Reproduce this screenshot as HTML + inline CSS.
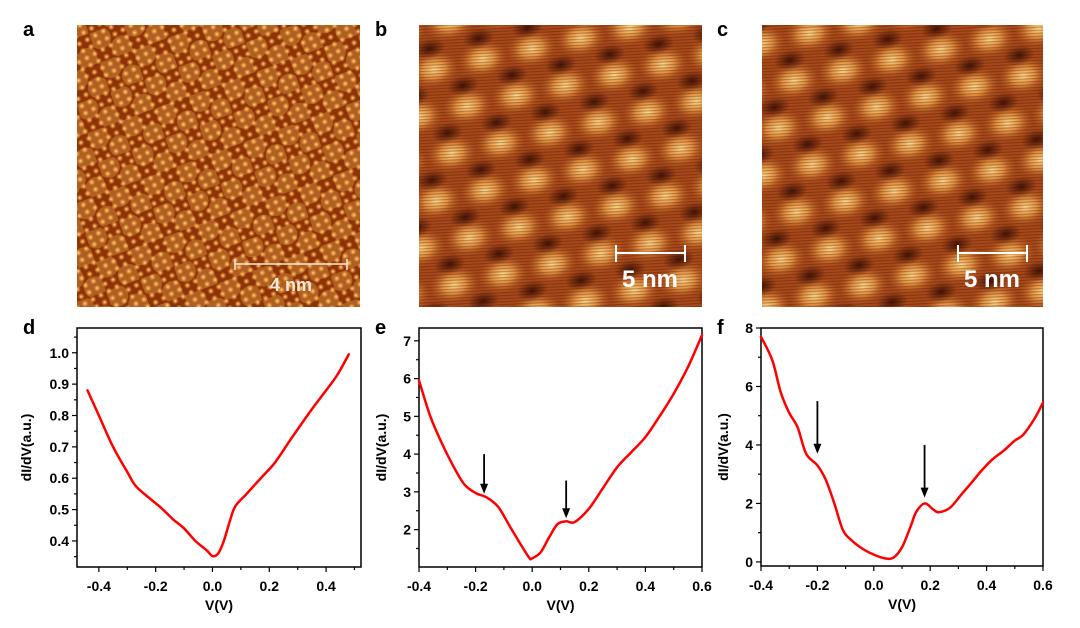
<!DOCTYPE html>
<html><head><meta charset="utf-8">
<style>
body{margin:0;background:#fff;width:1080px;height:623px;overflow:hidden;font-family:"Liberation Sans",Arial,sans-serif;}
svg text{font-family:"Liberation Sans",Arial,sans-serif;font-weight:bold;}
</style></head>
<body>
<svg id="fig" width="1080" height="623" viewBox="0 0 1080 623">
<defs>
  <radialGradient id="gdot"><stop offset="0" stop-color="#ffe39a"/><stop offset="0.5" stop-color="#e08a30" stop-opacity="0.8"/><stop offset="1" stop-color="#e08a30" stop-opacity="0"/></radialGradient>
  <radialGradient id="gdark"><stop offset="0" stop-color="#2a0500" stop-opacity="0.8"/><stop offset="1" stop-color="#2a0500" stop-opacity="0"/></radialGradient>
  <radialGradient id="gblob"><stop offset="0" stop-color="#ffd98a"/><stop offset="0.45" stop-color="#eea04a" stop-opacity="0.85"/><stop offset="1" stop-color="#b8561a" stop-opacity="0"/></radialGradient>
  <pattern id="patA" width="9" height="8" patternUnits="userSpaceOnUse" patternTransform="rotate(-28)">
    <rect width="9" height="8" fill="#8e3208"/>
    <circle cx="4.5" cy="4" r="3.4" fill="url(#gdot)"/>
  </pattern>
  <pattern id="patAm" width="36" height="31" patternUnits="userSpaceOnUse" patternTransform="rotate(-20)">
    <circle cx="9" cy="8" r="11" fill="#ffc860" opacity="0.3"/>
    <circle cx="27" cy="23.5" r="11" fill="#ffc860" opacity="0.3"/>
  </pattern>
  <pattern id="patB" width="100" height="86" patternUnits="userSpaceOnUse" patternTransform="rotate(-12) translate(10,8)">
    <rect width="100" height="86" fill="#a9491a"/>
    <ellipse cx="25" cy="21" rx="26" ry="19" fill="url(#gblob)"/>
    <ellipse cx="75" cy="21" rx="26" ry="19" fill="url(#gblob)"/>
    <ellipse cx="0" cy="64" rx="26" ry="19" fill="url(#gblob)"/>
    <ellipse cx="50" cy="64" rx="26" ry="19" fill="url(#gblob)"/>
    <ellipse cx="100" cy="64" rx="26" ry="19" fill="url(#gblob)"/>
    <ellipse cx="0" cy="43" rx="16" ry="10" fill="url(#gdark)"/>
    <ellipse cx="50" cy="43" rx="16" ry="10" fill="url(#gdark)"/>
    <ellipse cx="100" cy="43" rx="16" ry="10" fill="url(#gdark)"/>
    <ellipse cx="25" cy="86" rx="16" ry="10" fill="url(#gdark)"/>
    <ellipse cx="75" cy="86" rx="16" ry="10" fill="url(#gdark)"/>
    <ellipse cx="25" cy="0" rx="16" ry="10" fill="url(#gdark)"/>
    <ellipse cx="75" cy="0" rx="16" ry="10" fill="url(#gdark)"/>
  </pattern>
  <pattern id="stripes" width="4" height="3" patternUnits="userSpaceOnUse" patternTransform="rotate(-3)">
    <rect width="4" height="1.2" fill="#3a0e00" opacity="0.3"/>
  </pattern>
</defs>

<g>
  <rect x="77" y="25" width="283" height="282" fill="url(#patA)"/>
  <rect x="77" y="25" width="283" height="282" fill="url(#patAm)"/>
  <line x1="235" y1="264" x2="347" y2="264" stroke="#f3ead8" stroke-width="1.5"/>
  <line x1="235" y1="259" x2="235" y2="270" stroke="#f3ead8" stroke-width="1.5"/>
  <line x1="347" y1="259" x2="347" y2="270" stroke="#f3ead8" stroke-width="1.5"/>
  <text x="291" y="291" font-size="18" fill="#f3ead8" text-anchor="middle">4 nm</text>
</g>
<g>
  <rect x="419" y="25" width="283" height="282" fill="url(#patB)"/>
  <rect x="419" y="25" width="283" height="282" fill="url(#stripes)"/>
  <line x1="616" y1="253" x2="685" y2="253" stroke="#fff" stroke-width="2"/>
  <line x1="616" y1="245" x2="616" y2="262" stroke="#fff" stroke-width="2"/>
  <line x1="685" y1="245" x2="685" y2="262" stroke="#fff" stroke-width="2"/>
  <text x="650" y="287" font-size="24" fill="#fff" text-anchor="middle">5 nm</text>
</g>
<g>
  <rect x="762" y="25" width="281" height="282" fill="url(#patB)"/>
  <rect x="762" y="25" width="281" height="282" fill="url(#stripes)"/>
  <line x1="958" y1="253" x2="1027" y2="253" stroke="#fff" stroke-width="2"/>
  <line x1="958" y1="245" x2="958" y2="262" stroke="#fff" stroke-width="2"/>
  <line x1="1027" y1="245" x2="1027" y2="262" stroke="#fff" stroke-width="2"/>
  <text x="992" y="287" font-size="24" fill="#fff" text-anchor="middle">5 nm</text>
</g>

<text x="23" y="36" font-size="20">a</text>
<text x="375" y="36" font-size="20">b</text>
<text x="717" y="36" font-size="20">c</text>
<text x="23" y="334" font-size="20">d</text>
<text x="375" y="334" font-size="20">e</text>
<text x="717" y="334" font-size="20">f</text>
<g id="charts"></g>
</svg>
<script>
// Panel d data
const dX = [-0.44,-0.40,-0.35,-0.30,-0.27,-0.22,-0.18,-0.14,-0.10,-0.06,-0.02,0.0,0.02,0.04,0.06,0.08,0.12,0.17,0.22,0.28,0.35,0.40,0.44,0.48];
const dY = [0.88,0.80,0.70,0.62,0.575,0.535,0.505,0.47,0.44,0.40,0.37,0.352,0.36,0.40,0.46,0.51,0.55,0.60,0.65,0.73,0.82,0.88,0.93,0.995];
const dXTicks = [-0.4,-0.2,0.0,0.2,0.4];
const dXTickLabels = ["-0.4","-0.2","0.0","0.2","0.4"];
const dYTicks = [0.4,0.5,0.6,0.7,0.8,0.9,1.0];
const dYTickLabels = ["0.4","0.5","0.6","0.7","0.8","0.9","1.0"];
// Panel e data
const eX = [-0.4,-0.36,-0.32,-0.28,-0.24,-0.2,-0.16,-0.12,-0.08,-0.04,-0.01,0.0,0.03,0.06,0.09,0.12,0.15,0.2,0.25,0.3,0.35,0.4,0.45,0.5,0.55,0.6];
const eY = [5.95,5.0,4.3,3.7,3.2,2.97,2.85,2.6,2.1,1.6,1.25,1.24,1.4,1.8,2.15,2.22,2.2,2.55,3.1,3.65,4.05,4.45,5.0,5.6,6.3,7.15];
const eXTicks = [-0.4,-0.2,0.0,0.2,0.4,0.6];
const eXTickLabels = ["-0.4","-0.2","0.0","0.2","0.4","0.6"];
const eYTicks = [2,3,4,5,6,7];
const eYTickLabels = ["2","3","4","5","6","7"];
const eArrowX = [-0.17,0.12];
const eArrowTop = [4.0,3.3];
const eArrowTip = [2.95,2.3];
// Panel f data
const fX = [-0.4,-0.36,-0.33,-0.3,-0.27,-0.24,-0.2,-0.17,-0.14,-0.11,-0.08,-0.04,0.0,0.04,0.07,0.1,0.13,0.15,0.18,0.21,0.23,0.27,0.31,0.35,0.38,0.42,0.46,0.5,0.53,0.57,0.6];
const fY = [7.7,6.9,5.8,5.1,4.6,3.7,3.3,2.8,2.0,1.1,0.75,0.45,0.25,0.12,0.15,0.5,1.2,1.7,2.0,1.8,1.7,1.85,2.3,2.75,3.1,3.5,3.8,4.15,4.35,4.9,5.45];
const fXTicks = [-0.4,-0.2,0.0,0.2,0.4,0.6];
const fXTickLabels = ["-0.4","-0.2","0.0","0.2","0.4","0.6"];
const fYTicks = [0,2,4,6,8];
const fYTickLabels = ["0","2","4","6","8"];
const fArrowX = [-0.2,0.18];
const fArrowTop = [5.5,4.0];
const fArrowTip = [3.7,2.2];

const NS = "http://www.w3.org/2000/svg";
const root = document.getElementById('charts');
function mk(tag, attrs, parent){
  const el = document.createElementNS(NS, tag);
  for (const k in attrs) el.setAttribute(k, attrs[k]);
  (parent||root).appendChild(el);
  return el;
}
function panel(name, box, xr, yr, xs, ys, xt, xtl, yt, ytl, minorX, minorY, ylabX, arrows){
  const g = mk('g', {});
  
  
  const sx = v => box.x0 + (v - xr[0]) / (xr[1] - xr[0]) * (box.x1 - box.x0);
  const sy = v => box.y1 - (v - yr[0]) / (yr[1] - yr[0]) * (box.y1 - box.y0);
  const frame = mk('rect', {x:box.x0, y:box.y0, width:box.x1-box.x0, height:box.y1-box.y0, fill:'none', stroke:'#000', 'stroke-width':1.5}, g);
  
  
  minorX.forEach(v => mk('line', {x1:sx(v), x2:sx(v), y1:box.y1, y2:box.y1+3, stroke:'#000','stroke-width':1.2}, g));
  minorY.forEach(v => mk('line', {x1:box.x0-3, x2:box.x0, y1:sy(v), y2:sy(v), stroke:'#000','stroke-width':1.2}, g));
  xt.forEach((v,i) => {
    mk('line', {x1:sx(v), x2:sx(v), y1:box.y1, y2:box.y1+5, stroke:'#000','stroke-width':1.2}, g);
    const t = mk('text', {x:sx(v), y:box.y1+24, 'font-size':14, 'text-anchor':'middle'}, g);
    t.textContent = xtl[i];
    
    
  });
  yt.forEach((v,i) => {
    mk('line', {x1:box.x0-5, x2:box.x0, y1:sy(v), y2:sy(v), stroke:'#000','stroke-width':1.2}, g);
    const t = mk('text', {x:box.x0-8, y:sy(v)+5, 'font-size':14, 'text-anchor':'end'}, g);
    t.textContent = ytl[i];
    
    
  });
  const xl = mk('text', {x:(box.x0+box.x1)/2, y:box.y1+43, 'font-size':14, 'text-anchor':'middle'}, g);
  xl.textContent = 'V(V)';
  
  
  const yl = mk('text', {x:0, y:0, 'font-size':14, 'text-anchor':'middle', transform:`translate(${ylabX},${(box.y0+box.y1)/2}) rotate(-90)`}, g);
  yl.textContent = 'dI/dV(a.u.)';
  
  
  const pts = xs.map((v,i) => [sx(v), sy(ys[i])]);
  let d = `M${pts[0][0]},${pts[0][1]}`;
  for (let i=0;i<pts.length-1;i++){
    const p0 = pts[Math.max(0,i-1)], p1 = pts[i], p2 = pts[i+1], p3 = pts[Math.min(pts.length-1,i+2)];
    const c1 = [p1[0]+(p2[0]-p0[0])/6, p1[1]+(p2[1]-p0[1])/6];
    const c2 = [p2[0]-(p3[0]-p1[0])/6, p2[1]-(p3[1]-p1[1])/6];
    d += ` C${c1[0]},${c1[1]} ${c2[0]},${c2[1]} ${p2[0]},${p2[1]}`;
  }
  const line = mk('path', {d:d, fill:'none', stroke:'#f00', 'stroke-width':2.5, 'stroke-linejoin':'round','stroke-linecap':'round'}, g);
  
  
  if (arrows){
    arrows.x.forEach((v,i) => {
      const ax = sx(v), y0 = sy(arrows.top[i]), y1 = sy(arrows.tip[i]);
      const a = mk('g', {}, g);
      
      
      mk('line', {x1:ax, x2:ax, y1:y0, y2:y1-8, stroke:'#000', 'stroke-width':1.8}, a);
      mk('polygon', {points:`${ax-4},${y1-10} ${ax+4},${y1-10} ${ax},${y1}`, fill:'#000'}, a);
    });
  }
}
panel('dos-plot-d', {x0:77,x1:361,y0:328,y1:567}, [-0.477,0.523], [0.317,1.079], dX, dY,
  dXTicks, dXTickLabels, dYTicks, dYTickLabels, [-0.3,-0.1,0.1,0.3,0.5], [0.35,0.45,0.55,0.65,0.75,0.85,0.95,1.05], 31, null);
panel('dos-plot-e', {x0:419,x1:702,y0:328,y1:567}, [-0.4,0.6], [1.01,7.34], eX, eY,
  eXTicks, eXTickLabels, eYTicks, eYTickLabels, [-0.3,-0.1,0.1,0.3,0.5], [1.5,2.5,3.5,4.5,5.5,6.5], 386, {x:eArrowX, top:eArrowTop, tip:eArrowTip});
panel('dos-plot-f', {x0:761,x1:1043,y0:328,y1:566}, [-0.4,0.6], [-0.14,8.0], fX, fY,
  fXTicks, fXTickLabels, fYTicks, fYTickLabels, [-0.3,-0.1,0.1,0.3,0.5], [1,3,5,7], 728, {x:fArrowX, top:fArrowTop, tip:fArrowTip});
</script>
</body></html>
